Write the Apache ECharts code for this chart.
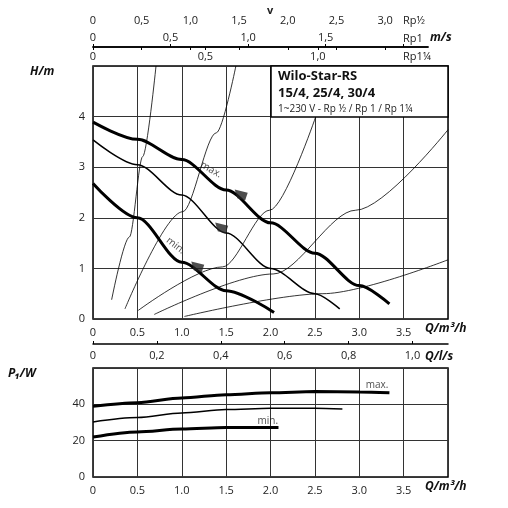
<!DOCTYPE html>
<html><head><meta charset="utf-8">
<script src="https://cdn.jsdelivr.net/npm/echarts@6/dist/echarts.min.js"></script>
<style>html,body{margin:0;background:#fff}#Chart{width:508px;height:508px}</style>
</head><body><div id="Chart"></div>
<script>
// pump curves H(Q), [Q m3/h, H m]
var hMax = [[0,3.89],[0.5,3.55],[1.0,3.15],[1.5,2.55],[2.0,1.9],[2.5,1.3],[3.0,0.66],[3.34,0.30]];
var hMid = [[0,3.54],[0.5,3.05],[1.0,2.45],[1.5,1.7],[2.0,1.0],[2.5,0.5],[2.78,0.2]];
var hMin = [[0,2.68],[0.5,2.0],[1.0,1.12],[1.5,0.56],[2.04,0.13]];
// system curves
var sysA = [[0.21,0.38],[0.41,1.62],[0.56,3.21],[0.71,5]];
var sysB = [[0.36,0.2],[1.01,2.12],[1.39,3.68],[1.61,5]];
var sysC = [[0.51,0.17],[1.46,1.03],[1.99,2.15],[2.51,4.0]];
var sysD = [[0.69,0.09],[2.03,0.89],[2.96,2.15],[4.0,3.74]];
var sysE = [[1.03,0.05],[2.59,0.5],[4.0,1.17]];
var markers = [[1.67,2.45],[1.45,1.8],[1.18,1.03]];
// power P1(Q), [Q m3/h, P W]
var pMax = [[0,38.9],[0.5,40.9],[1,43.5],[1.5,45.3],[2,46.4],[2.5,47],[3,46.8],[3.34,46.4]];
var pMid = [[0,30.3],[0.5,32.7],[1,35.2],[1.5,37.1],[2,37.8],[2.5,37.8],[2.81,37.4]];
var pMin = [[0,22],[0.5,24.8],[1,26.4],[1.5,27.3],[2.09,27.2]];

var F = 'Open Sans';
var txt = {color:'#222', fontFamily:F, fontSize:11};
function comma(v){ return v === 0 ? '0' : v.toFixed(1).replace('.', ','); }
function dot(v){ return v === 0 ? '0' : v.toFixed(1); }

var myChart = echarts.init(document.getElementById('Chart'));

function line(data, w, xi, yi){
  return {type:'line', data:data, smooth:0.3, smoothMonotone:'x', symbol:'none', xAxisIndex:xi, yAxisIndex:yi,
    lineStyle:{color:'#000', width:w}, z:w > 1.5 ? 4 : 3};
}
var splitX = {show:true, lineStyle:{color:'#333', width:1}};

option = {
  animation:false,
  grid:[
    {left:93, right:60, top:66, height:253, show:true, borderColor:'#000', borderWidth:1.5},
    {left:93, right:60, top:368, height:109, show:true, borderColor:'#000', borderWidth:1.5},
    {left:93, right:80, top:30, height:17}
  ],
  xAxis:[
    {gridIndex:0, type:'value', min:0, max:4, interval:0.5, axisLine:{show:false}, axisTick:{show:false},
     axisLabel:Object.assign({formatter:function(v){ return v >= 4 ? '' : dot(v); }}, txt), splitLine:splitX},
    {gridIndex:2, type:'value', position:'top', min:0, max:3.44, interval:0.5,
     axisLine:{lineStyle:{color:'#000', width:1.5}}, axisTick:{length:3, inside:true, lineStyle:{color:'#000'}},
     axisLabel:Object.assign({formatter:comma, showMaxLabel:false, margin:4}, txt), splitLine:{show:false}},
    {gridIndex:2, type:'value', position:'bottom', min:0, max:2.16, interval:0.5,
     axisLine:{lineStyle:{color:'#000', width:1.5}}, axisTick:{length:3, inside:true, lineStyle:{color:'#000'}},
     axisLabel:Object.assign({formatter:function(v){ return v >= 2 ? '' : comma(v); }, showMaxLabel:false, inside:true, margin:4}, txt), splitLine:{show:false}},
    {gridIndex:2, type:'value', position:'bottom', min:0, max:1.49, interval:0.5,
     axisLine:{show:false}, axisTick:{length:3, lineStyle:{color:'#000'}},
     axisLabel:Object.assign({formatter:comma, showMaxLabel:false, margin:4}, txt), splitLine:{show:false}},
    {gridIndex:1, type:'value', min:0, max:4, interval:0.5, axisLine:{show:false}, axisTick:{show:false},
     axisLabel:Object.assign({formatter:function(v){ return v >= 4 ? '' : dot(v); }}, txt), splitLine:splitX},
    {gridIndex:1, type:'value', position:'top', offset:24, min:0, max:4/3.6, interval:0.2,
     axisLine:{lineStyle:{color:'#000', width:1.5}}, axisTick:{length:3, lineStyle:{color:'#000'}},
     axisLabel:Object.assign({formatter:comma, showMaxLabel:false, inside:true, margin:6}, txt), splitLine:{show:false}}
  ],
  yAxis:[
    {gridIndex:0, type:'value', min:0, max:5, interval:1, axisLine:{show:false}, axisTick:{show:false},
     axisLabel:Object.assign({formatter:function(v){ return v >= 5 ? '' : v; }}, txt),
     splitLine:{lineStyle:{color:'#333', width:1}}},
    {gridIndex:1, type:'value', min:0, max:60, interval:20, axisLine:{show:false}, axisTick:{show:false},
     axisLabel:Object.assign({formatter:function(v){ return v >= 60 ? '' : v; }}, txt),
     splitLine:{lineStyle:{color:'#333', width:1}}},
    {gridIndex:2, type:'value', show:false}
  ],
  graphic:[
    {type:'rect', shape:{x:271, y:66, width:177, height:51}, style:{fill:'#fff', stroke:'#000', lineWidth:1.5}, z:10},
    {type:'text', x:278, y:70, z:11, style:{text:'Wilo-Star-RS', font:'bold 13px "Open Sans"', fill:'#111'}},
    {type:'text', x:278, y:87, z:11, style:{text:'15/4, 25/4, 30/4', font:'bold 13px "Open Sans"', fill:'#111'}},
    {type:'text', x:278, y:104, z:11, style:{text:'1~230 V - Rp ½ / Rp 1 / Rp 1¼', font:'10px "Open Sans"', fill:'#222'}},
    {type:'text', x:267, y:5, style:{text:'v', font:'bold 11px "Open Sans"', fill:'#222'}},
    {type:'text', x:403, y:15, style:{text:'Rp½', font:'11px "Open Sans"', fill:'#222'}},
    {type:'text', x:403, y:33, style:{text:'Rp1', font:'11px "Open Sans"', fill:'#222'}},
    {type:'text', x:430, y:32, style:{text:'m/s', font:'italic bold 12px "Open Sans"', fill:'#111'}},
    {type:'text', x:403, y:51, style:{text:'Rp1¼', font:'11px "Open Sans"', fill:'#222'}},
    {type:'text', x:30, y:66, style:{text:'H/m', font:'italic bold 12px "Open Sans"', fill:'#111'}},
    {type:'text', x:425, y:323, style:{text:'Q/m³/h', font:'italic bold 12px "Open Sans"', fill:'#111'}},
    {type:'text', x:425, y:351, style:{text:'Q/l/s', font:'italic bold 12px "Open Sans"', fill:'#111'}},
    {type:'text', x:8, y:368, style:{text:'P₁/W', font:'italic bold 12px "Open Sans"', fill:'#111'}},
    {type:'text', x:425, y:481, style:{text:'Q/m³/h', font:'italic bold 12px "Open Sans"', fill:'#111'}}
  ],
  series:[
    line(sysA, 0.8, 0, 0), line(sysB, 0.8, 0, 0), line(sysC, 0.8, 0, 0), line(sysD, 0.8, 0, 0), line(sysE, 0.8, 0, 0),
    line(hMax, 3, 0, 0), line(hMid, 1.5, 0, 0), line(hMin, 3, 0, 0),
    {type:'scatter', xAxisIndex:0, yAxisIndex:0, data:markers, symbol:'path://M0,0L10,3L8,10L2,8Z', symbolSize:[13,11],
     itemStyle:{color:'#222'}, z:6},
    {type:'scatter', xAxisIndex:0, yAxisIndex:0, symbolSize:0, z:6,
     data:[{value:[1.33,2.95], label:{formatter:'max.', rotate:-30}}, {value:[0.93,1.45], label:{formatter:'min.', rotate:-38}}],
     label:{show:true, position:'inside', color:'#222', fontFamily:F, fontSize:10}},
    line(pMax, 3, 4, 1), line(pMid, 1.5, 4, 1), line(pMin, 3, 4, 1),
    {type:'scatter', xAxisIndex:4, yAxisIndex:1, symbolSize:0,
     data:[{value:[3.2,50.8], label:{formatter:'max.'}}, {value:[1.97,30.8], label:{formatter:'min.'}}],
     label:{show:true, position:'inside', color:'#222', fontFamily:F, fontSize:10}}
  ]
};
myChart.setOption(option);
</script></body></html>
